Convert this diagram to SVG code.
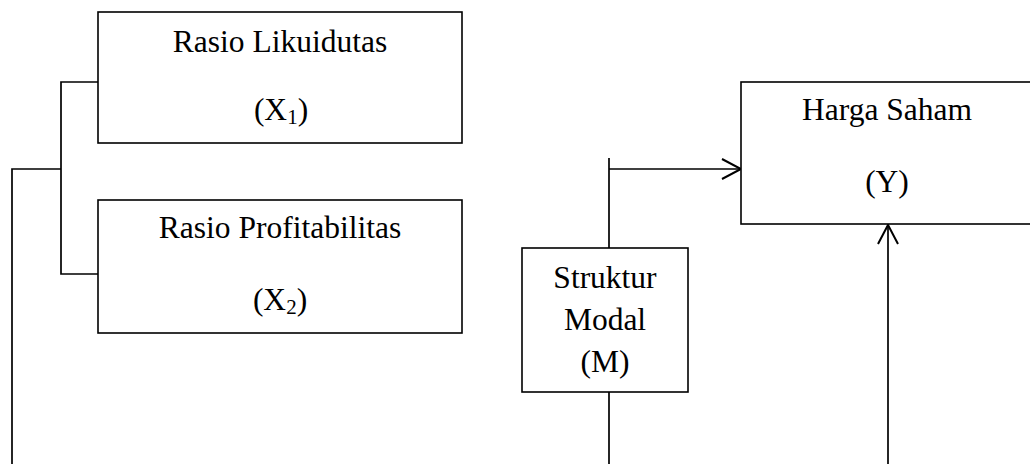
<svg xmlns="http://www.w3.org/2000/svg" width="1030" height="464" viewBox="0 0 1030 464">
<style>
  .box { fill: #ffffff; stroke: #000000; stroke-width: 1.6; }
  .line { fill: none; stroke: #000000; stroke-width: 1.7; }
  .t { font-family: "Liberation Serif", "Times New Roman", serif; font-size: 31.5px; fill: #000000; text-anchor: middle; }
  .sub { font-size: 21px; }
</style>
<defs>
  <marker id="arrow" markerUnits="userSpaceOnUse" markerWidth="24" markerHeight="24" viewBox="-21 -12 24 24" refX="0" refY="0" orient="auto">
    <path d="M -19 -10 L 0 0 L -19 10" fill="none" stroke="#000000" stroke-width="2"/>
  </marker>
</defs>
<rect width="1030" height="464" fill="#ffffff"/>

<g id="connectors">
  <path class="line" d="M 98 82 H 61 V 274 H 98"/>
  <path class="line" d="M 61 169 H 12 V 464"/>
  <path class="line" d="M 609 248 V 158"/>
  <path class="line" d="M 609 169 H 741" marker-end="url(#arrow)"/>
  <path class="line" d="M 609 392 V 464"/>
  <path class="line" d="M 888 464 V 225" marker-end="url(#arrow)"/>
</g>

<g id="node-x1">
  <rect class="box" x="98" y="12" width="364" height="131"/>
  <text class="t" x="280" y="52">Rasio Likuidutas</text>
  <text class="t" x="281" y="120">(X<tspan class="sub" dy="4">1</tspan><tspan dy="-4">)</tspan></text>
</g>

<g id="node-x2">
  <rect class="box" x="98" y="200" width="364" height="133"/>
  <text class="t" x="280" y="238">Rasio Profitabilitas</text>
  <text class="t" x="280" y="310">(X<tspan class="sub" dy="4">2</tspan><tspan dy="-4">)</tspan></text>
</g>

<g id="node-m">
  <rect class="box" x="522" y="248" width="166" height="144"/>
  <text class="t" x="605" y="288">Struktur</text>
  <text class="t" x="605" y="330">Modal</text>
  <text class="t" x="605" y="372">(M)</text>
</g>

<g id="node-y">
  <rect class="box" x="741" y="82" width="300" height="142"/>
  <text class="t" x="887" y="120">Harga Saham</text>
  <text class="t" x="887" y="192">(Y)</text>
</g>
</svg>
